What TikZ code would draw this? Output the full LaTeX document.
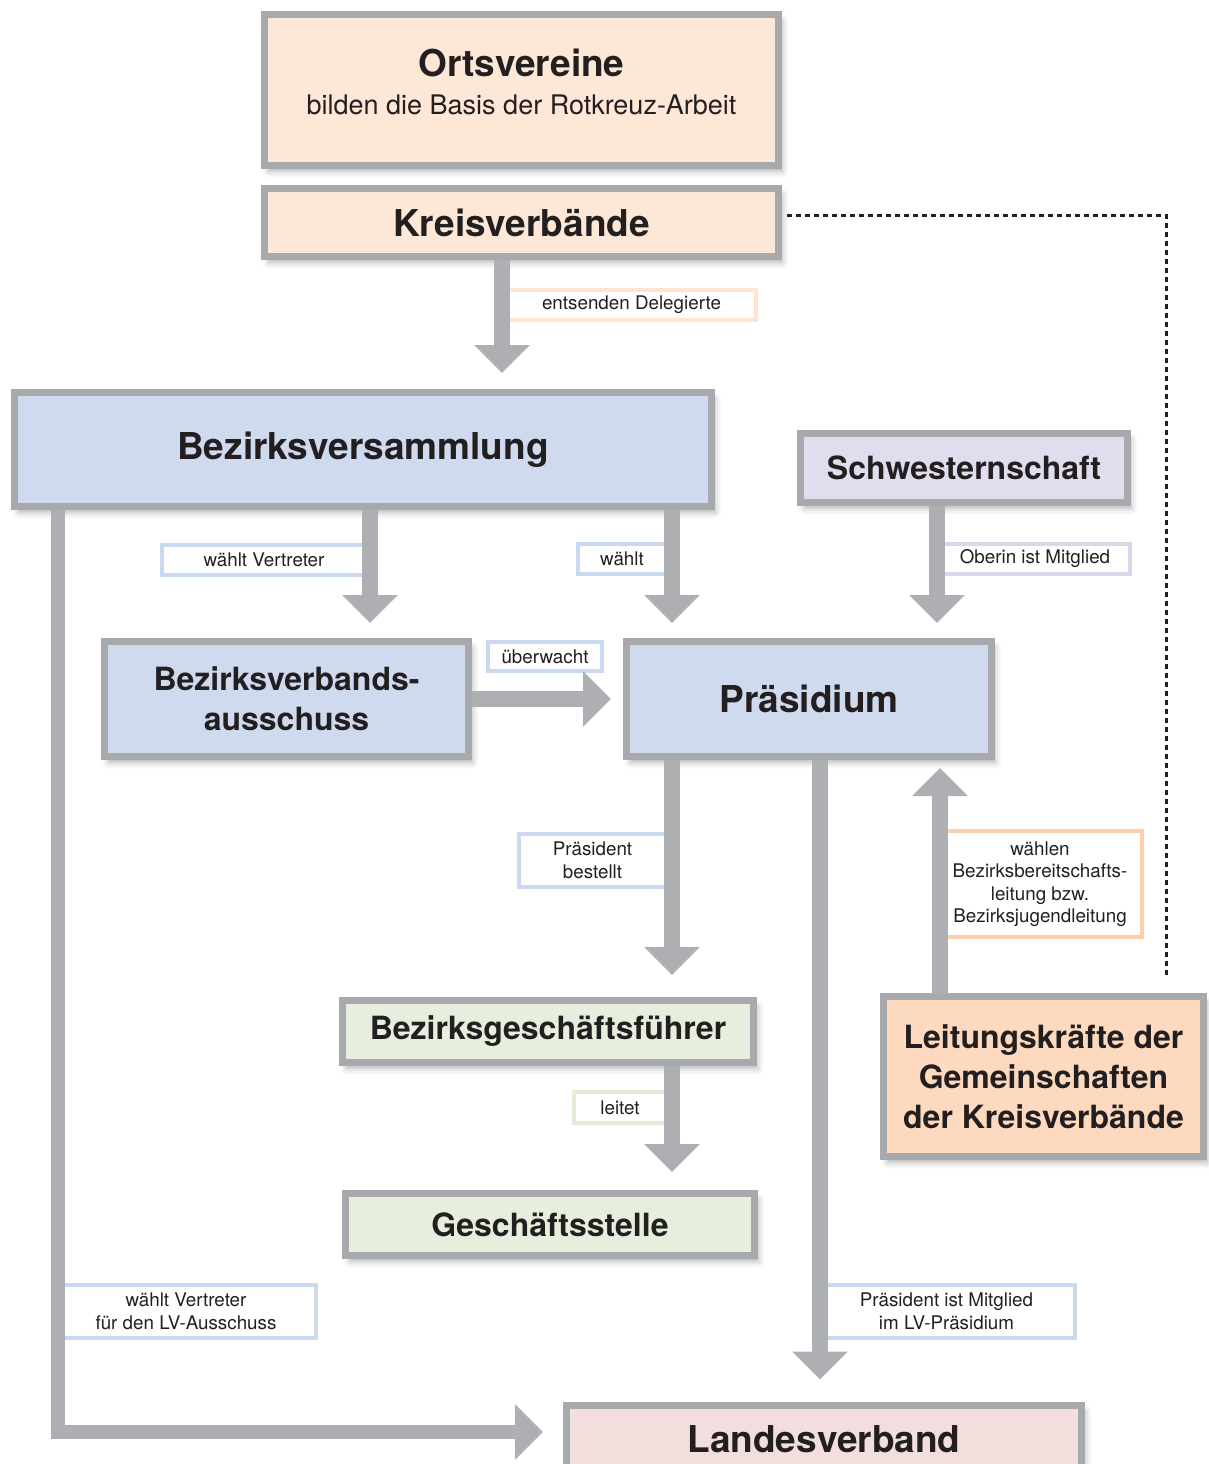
\documentclass[tikz,border=0pt]{standalone}
\usepackage{fontspec}
\setmainfont{TeX Gyre Heros}
\usepackage{xcolor}
\usepackage{tikz}
\usetikzlibrary{arrows.meta,shadows.blur}
\definecolor{framegray}{HTML}{A7A9AC}
\definecolor{arrowgray}{HTML}{ADAFB3}
\definecolor{textdark}{HTML}{231F20}
\definecolor{peachfill}{HTML}{FDE7D6}
\definecolor{bluefill}{HTML}{CFDAEE}
\definecolor{lavenderfill}{HTML}{E0DDEE}
\definecolor{greenfill}{HTML}{E6EFDD}
\definecolor{orangefill}{HTML}{FCD9BF}
\definecolor{pinkfill}{HTML}{F2DFDD}
\definecolor{peachline}{HTML}{FDE5D1}
\definecolor{blueline}{HTML}{C9D9F0}
\definecolor{lavenderline}{HTML}{DBD7EB}
\definecolor{greenline}{HTML}{E1EDD7}
\definecolor{orangeline}{HTML}{FCCFAF}
\newcommand{\orgbig}{\fontsize{37}{44}\selectfont\bfseries}
\newcommand{\orgtitle}{\fontsize{32}{40}\selectfont\bfseries}
\newcommand{\orgsub}{\fontsize{27}{32}\selectfont}
\newcommand{\notetext}{\fontsize{18.8}{22.5}\selectfont}
\tikzset{
  orgbox/.style={draw=framegray,line width=7pt,inner sep=0pt,align=center,font=\orgtitle,text=textdark,
    blur shadow={shadow xshift=4pt,shadow yshift=-6pt,shadow blur radius=6pt,shadow opacity=30}},
  notebox/.style={draw=#1,line width=4pt,fill=white,inner sep=0pt,align=center,font=\notetext,text=textdark},
  bigarrow/.style={draw=arrowgray,line width=16pt,-{Triangle[width=54pt,length=28pt]}},
  dotline/.style={draw=textdark,line width=3pt,dash pattern=on 5pt off 4pt}
}
\begin{document}
\begin{tikzpicture}[x=1pt,y=-1pt]
  \useasboundingbox (0,0) rectangle (1208,1464);
  \node[orgbox,fill=peachfill,minimum width=514pt,minimum height=151pt,font=\orgsub,text depth=17pt] (ov) at (521.5,90)
    {{\orgbig Ortsvereine}\\[6pt]bilden die Basis der Rotkreuz-Arbeit};
  \node[orgbox,fill=peachfill,minimum width=514pt,minimum height=68pt,font=\orgbig] (kv) at (521.5,222.5) {Kreisverbände};
  \node[orgbox,fill=bluefill,minimum width=697pt,minimum height=114pt,font=\orgbig] (bv) at (363,449.5) {Bezirksversammlung};
  \node[orgbox,fill=lavenderfill,minimum width=327pt,minimum height=69pt] (sw) at (964,468) {Schwesternschaft};
  \node[orgbox,fill=bluefill,minimum width=364pt,minimum height=115pt] (bva) at (286.5,699) {Bezirksverbands-\\ausschuss};
  \node[orgbox,fill=bluefill,minimum width=365pt,minimum height=115pt,font=\orgbig] (pr) at (809,699) {Präsidium};
  \node[orgbox,fill=greenfill,minimum width=411pt,minimum height=62pt] (bgf) at (548,1031.5) {Bezirksgeschäftsführer};
  \node[orgbox,fill=greenfill,minimum width=409pt,minimum height=62pt] (gs) at (550,1224.5) {Geschäftsstelle};
  \node[orgbox,fill=orangefill,minimum width=320pt,minimum height=160pt] (lk) at (1043.5,1076.5)
    {Leitungskräfte der\\Gemeinschaften\\der Kreisverbände};
  \node[orgbox,fill=pinkfill,minimum width=515pt,minimum height=69pt,font=\orgbig] (lv) at (824,1439.5) {Landesverband};

  \node[notebox=peachline,minimum width=249pt,minimum height=30pt] (n1) at (631.5,305) {entsenden Delegierte};
  \node[notebox=blueline,minimum width=204pt,minimum height=30pt] (n2) at (264,560) {wählt Vertreter};
  \node[notebox=blueline,minimum width=88pt,minimum height=30pt] (n3) at (622,559) {wählt};
  \node[notebox=lavenderline,minimum width=190pt,minimum height=30pt] (n4) at (1035,559) {Oberin ist Mitglied};
  \node[notebox=blueline,minimum width=114pt,minimum height=29pt] (n5) at (545,656.5) {überwacht};
  \node[notebox=blueline,minimum width=147pt,minimum height=53pt] (n6) at (592.5,860.5) {Präsident\\bestellt};
  \node[notebox=orangeline,minimum width=204pt,minimum height=106pt] (n7) at (1040,884)
    {wählen\\Bezirksbereitschafts-\\leitung bzw.\\Bezirksjugendleitung};
  \node[notebox=greenline,minimum width=92pt,minimum height=31pt] (n8) at (620,1107.5) {leitet};
  \node[notebox=blueline,minimum width=260pt,minimum height=53pt] (n9) at (186,1311.5) {wählt Vertreter\\für den LV-Ausschuss};
  \node[notebox=blueline,minimum width=257pt,minimum height=53pt] (n10) at (946.5,1311.5) {Präsident ist Mitglied\\im LV-Präsidium};

  \draw[bigarrow,shorten >=16pt] ([xshift=-19.5pt]kv.south) -- ([xshift=-19.5pt]kv.south |- bv.north);
  \draw[bigarrow,shorten >=15pt] ([xshift=7pt]bv.south) -- ([xshift=7pt]bv.south |- bva.north);
  \draw[bigarrow,shorten >=15pt] ([xshift=-137pt]pr.north |- bv.south) -- ([xshift=-137pt]pr.north);
  \draw[bigarrow,shorten >=15pt] ([xshift=-27pt]sw.south) -- ([xshift=-27pt]sw.south |- pr.north);
  \draw[bigarrow,shorten >=12pt] (bva.east) -- (pr.west);
  \draw[bigarrow,shorten >=22pt] ([xshift=-137pt]pr.south) -- ([xshift=-137pt]pr.south |- bgf.north);
  \draw[bigarrow,shorten >=22pt] ([xshift=11pt]pr.south) -- ([xshift=11pt]pr.south |- lv.north);
  \draw[bigarrow,shorten >=8pt] ([xshift=-103.5pt]lk.north) -- ([xshift=-103.5pt]lk.north |- pr.south);
  \draw[bigarrow,shorten >=18pt] ([xshift=124pt]bgf.south) -- ([xshift=124pt]bgf.south |- gs.north);
  \draw[bigarrow,line width=14pt,shorten >=20pt] ([xshift=-305pt]bv.south) |- ([yshift=7.5pt]lv.west);
  \draw[dotline] ([xshift=5pt,yshift=7.5pt]kv.east) -| ([xshift=122.5pt,yshift=17pt]lk.north);
\end{tikzpicture}
\end{document}
